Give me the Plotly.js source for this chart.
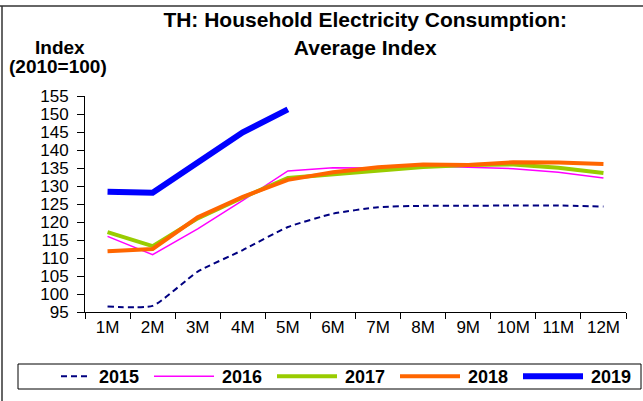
<!DOCTYPE html>
<html>
<head>
<meta charset="utf-8">
<script src="https://cdn.plot.ly/plotly-3.0.1.min.js"></script>
<style>
  html, body { margin: 0; padding: 0; background: #fff; }
  #chart { width: 643px; height: 401px; }
</style>
</head>
<body>
<div id="chart"></div>
<script>
// months on the category axis
const months = ['1M', '2M', '3M', '4M', '5M', '6M', '7M', '8M', '9M', '10M', '11M', '12M'];

// average index (2010=100)
const y2015 = [96.5, 96.7, 106.2, 112.2, 118.6, 122.3, 124.1, 124.5, 124.5, 124.6, 124.6, 124.3];
const y2016 = [116.0, 110.9, 118.1, 126.0, 134.2, 135.1, 135.0, 135.5, 135.2, 134.8, 133.8, 132.2];
const y2017 = [117.2, 113.3, 121.0, 126.8, 132.2, 133.3, 134.2, 135.3, 135.8, 136.0, 135.1, 133.6];
const y2018 = [111.9, 112.5, 121.3, 127.0, 131.7, 133.8, 135.2, 136.0, 135.8, 136.6, 136.5, 136.1];
const y2019 = [128.4, 128.1, 136.5, 144.9, 151.3];

const font = 'Liberation Sans, Arial, sans-serif';

const traces = [
  { name: '2015', x: months, y: y2015, mode: 'lines',
    line: { color: '#000080', width: 2, dash: '6px,4px', shape: 'spline', smoothing: 0.5 } },
  { name: '2016', x: months, y: y2016, mode: 'lines',
    line: { color: '#ff00ff', width: 1.5 } },
  { name: '2017', x: months, y: y2017, mode: 'lines',
    line: { color: '#99cc00', width: 4 } },
  { name: '2018', x: months, y: y2018, mode: 'lines',
    line: { color: '#ff6600', width: 4 } },
  { name: '2019', x: months.slice(0, y2019.length), y: y2019, mode: 'lines',
    line: { color: '#0000ff', width: 6 } }
];

// pixel -> paper helpers (plot area 85..626 x 96..312)
const px = v => (v - 85) / 541;
const py = v => (312 - v) / 216;

const layout = {
  width: 643,
  height: 401,
  margin: { l: 85, r: 17, t: 96, b: 89, autoexpand: false },
  paper_bgcolor: '#fff',
  plot_bgcolor: '#fff',
  font: { family: font, size: 17, color: '#000' },
  showlegend: true,
  title: {
    text: '<b>TH: Household Electricity Consumption:<br>Average Index</b>',
    font: { family: font, size: 21, color: '#000' },
    x: 0.568, xanchor: 'center',
    y: 0.932, yanchor: 'top', yref: 'container'
  },
  xaxis: {
    type: 'category',
    range: [-0.5, 11.5],
    showline: true, linecolor: '#000', linewidth: 1,
    ticks: 'outside', tickson: 'boundaries', ticklen: 6, tickcolor: '#000',
    showgrid: false, zeroline: false,
    tickfont: { family: font, size: 17 }
  },
  yaxis: {
    range: [95, 155],
    dtick: 5,
    showline: true, linecolor: '#000', linewidth: 1,
    ticks: 'outside', ticklen: 7, tickcolor: '#000',
    ticklabelstandoff: 5,
    showgrid: false, zeroline: false,
    tickfont: { family: font, size: 17 }
  },
  legend: {
    orientation: 'h',
    x: px(59), xanchor: 'left',
    y: py(358), yanchor: 'top',
    entrywidth: 78,
    borderwidth: 0,
    bgcolor: 'rgba(0,0,0,0)',
    font: { family: font, size: 18, weight: 'bold' },
    traceorder: 'normal'
  },
  annotations: [
    { text: '<b>Index</b>', xref: 'paper', yref: 'paper', x: px(60), y: py(47),
      xanchor: 'center', yanchor: 'middle', showarrow: false,
      font: { family: font, size: 19, color: '#000' } },
    { text: '<b>(2010=100)</b>', xref: 'paper', yref: 'paper', x: px(58), y: py(66),
      xanchor: 'center', yanchor: 'middle', showarrow: false,
      font: { family: font, size: 19, color: '#000' } }
  ],
  shapes: [
    // outer frame (top and left edges)
    { type: 'line', xref: 'paper', yref: 'paper', x0: px(0), x1: px(643), y0: py(6), y1: py(6),
      line: { color: '#333', width: 1.5 } },
    { type: 'line', xref: 'paper', yref: 'paper', x0: px(2), x1: px(2), y0: py(6), y1: py(401),
      line: { color: '#333', width: 1.5 } },
    // legend box
    { type: 'rect', xref: 'paper', yref: 'paper', x0: px(18), x1: px(641), y0: py(364), y1: py(389),
      line: { color: '#000', width: 1 }, fillcolor: 'rgba(0,0,0,0)' }
  ]
};

Plotly.newPlot('chart', traces, layout, { displayModeBar: false, staticPlot: true }).then(gd => {
  // longer legend samples, like the original
  gd.querySelectorAll('.legend .legendlines path').forEach(p => p.setAttribute('d', 'M-28,0h60'));
});
</script>
</body>
</html>
